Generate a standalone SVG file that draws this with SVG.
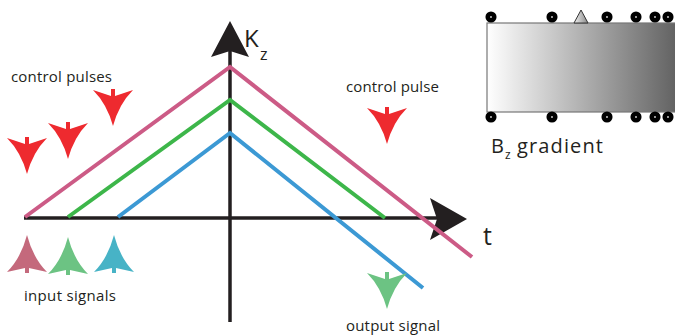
<svg xmlns="http://www.w3.org/2000/svg" width="675" height="335" viewBox="0 0 675 335">
<defs>
<style>
.lbl{font-family:"Open Sans","Liberation Sans",sans-serif;fill:#231f20}
.ax{stroke:#231f20;stroke-width:3.5;fill:none}
.ln{stroke-width:4;fill:none}
.dot{fill:#bdbdbd;stroke:#000;stroke-width:4.5}
</style>
<linearGradient id="bz" x1="0" y1="0" x2="1" y2="0">
<stop offset="0" stop-color="#ffffff"/>
<stop offset="1" stop-color="#606060"/>
</linearGradient>
<linearGradient id="tri" x1="0" y1="0" x2="1" y2="0">
<stop offset="0" stop-color="#f0f0f0"/>
<stop offset="1" stop-color="#888"/>
</linearGradient>
<path id="down" d="M0,36 Q-6,14 -20,0 L-2,6 L-2,-1 L2,-1 L2,6 L20,0 Q6,14 0,36 Z"/>
<path id="up" d="M0,-37 Q-6,-14 -20,0 L-2,-4 L-2,1 L2,1 L2,-4 L20,0 Q6,-14 0,-37 Z"/>
</defs>
<g id="connectors">
<line class="ax" x1="24" y1="218" x2="445" y2="218"/>
<line class="ax" x1="230" y1="322" x2="230" y2="45"/>
<path d="M467,219 L430,198 L437,219 L430,240 Z" fill="#231f20"/>
<path d="M230,21 L211,57 L230,51 L249,57 Z" fill="#231f20"/>
<polyline class="ln" stroke="#cc5b86" points="25,217 230,67 472,257"/>
<polyline class="ln" stroke="#3db64a" points="68,217 230,100 385,218"/>
<polyline class="ln" stroke="#3c99d4" points="118,217 230,133 423,288"/>
</g>
<g id="control-pulses">
<use href="#down" x="27" y="138" fill="#ee2a2f"/>
<use href="#down" x="68" y="123" fill="#ee2a2f"/>
<use href="#down" x="113" y="90" fill="#ee2a2f"/>
<text class="lbl" x="11" y="82" font-size="15" textLength="101">control pulses</text>
</g>
<g id="control-pulse">
<use href="#down" x="387" y="108" fill="#ee2a2f"/>
<text class="lbl" x="346" y="92" font-size="15" textLength="93">control pulse</text>
</g>
<g id="input-signals">
<use href="#up" x="27" y="272" fill="#c4697c"/>
<use href="#up" x="68" y="274" fill="#6cc383"/>
<use href="#up" x="114" y="272" fill="#47b3c6"/>
<text class="lbl" x="24" y="301" font-size="15" textLength="92">input signals</text>
</g>
<g id="output-signal">
<use href="#down" x="387" y="273" fill="#6cc383"/>
<text class="lbl" x="346" y="331" font-size="15" textLength="94">output signal</text>
</g>
<g id="axis-labels">
<text class="lbl" x="244" y="47" font-size="24">K</text>
<text class="lbl" x="260" y="60" font-size="16">z</text>
<text class="lbl" x="483" y="245" font-size="25">t</text>
</g>
<g id="bz-gradient">
<rect x="487" y="23" width="192" height="89" fill="url(#bz)" stroke="#777" stroke-width="1.2"/>
<path d="M581,10 L574,23 L588,23 Z" fill="url(#tri)" stroke="#333" stroke-width="1"/>
<circle class="dot" cx="491" cy="17" r="3.3"/>
<circle class="dot" cx="552" cy="17" r="3.3"/>
<circle class="dot" cx="607" cy="17" r="3.3"/>
<circle class="dot" cx="636" cy="17" r="3.3"/>
<circle class="dot" cx="655" cy="17" r="3.3"/>
<circle class="dot" cx="668" cy="17" r="3.3"/>
<circle class="dot" cx="491" cy="117" r="3.3"/>
<circle class="dot" cx="552" cy="117" r="3.3"/>
<circle class="dot" cx="607" cy="117" r="3.3"/>
<circle class="dot" cx="636" cy="117" r="3.3"/>
<circle class="dot" cx="655" cy="117" r="3.3"/>
<circle class="dot" cx="668" cy="117" r="3.3"/>
<text class="lbl" x="491" y="153" font-size="20">B</text>
<text class="lbl" x="505" y="159" font-size="12">z</text>
<text class="lbl" x="517" y="153" font-size="20" textLength="86">gradient</text>
</g>
</svg>
